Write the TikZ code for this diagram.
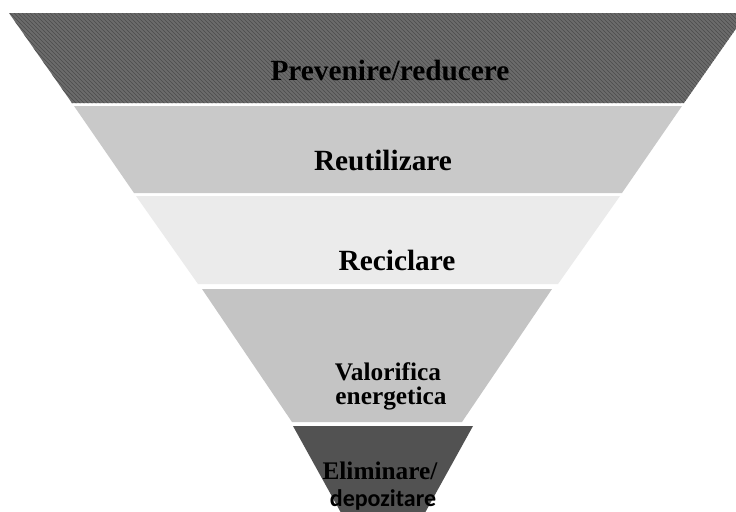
\documentclass[tikz,border=0pt]{standalone}
\usepackage{fontspec}
\setmainfont{Liberation Serif}
\newfontfamily\carlitofont{Carlito}
\usetikzlibrary{patterns}

\definecolor{bandone}{gray}{0.42}
\definecolor{bandtwo}{gray}{0.79}
\definecolor{bandthree}{gray}{0.92}
\definecolor{bandfour}{gray}{0.77}
\definecolor{bandfive}{gray}{0.32}

\tikzset{
	levellabel/.style={inner sep=0pt,anchor=base,font=\bfseries\fontsize{22}{24}\selectfont},
	smalllabel/.style={inner sep=0pt,anchor=base,text depth=0pt,font=\bfseries\fontsize{19}{20}\selectfont}
}

\begin{document}
\begin{tikzpicture}[x=0.75pt,y=-0.75pt]

\clip(0,0)rectangle(736,511);
\fill[white](0,0)rectangle(736,511);

\fill[bandone](9,13)--(747,13)--(684,103)--(72,103)--cycle;
\fill[pattern=north west lines,pattern color=black!70](9,13)--(747,13)--(684,103)--(72,103)--cycle;
\fill[bandtwo](74,106)--(682,106)--(622,193)--(134,193)--cycle;
\fill[bandthree](136,196)--(620,196)--(558,284)--(198,284)--cycle;
\fill[bandfour](202,289)--(552,289)--(462,422)--(292,422)--cycle;
\fill[bandfive](293,426)--(473,426)--(421,520)--(345,520)--cycle;

\node[levellabel] (prevenire) at (390,80) {Prevenire/reducere};
\node[levellabel] (reutilizare) at (383,170) {Reutilizare};
\node[levellabel] (reciclare) at (397,270) {Reciclare};
\node[smalllabel] (valorifica) at (388,380) {Valorifica};
\node[smalllabel] (energetica) at (391,404) {energetica};
\node[smalllabel] (eliminare) at (380,479) {Eliminare/};
\node[smalllabel,font=\carlitofont\bfseries\fontsize{18}{20}\selectfont] (depozitare) at (383,506) {depozitare};

\end{tikzpicture}
\end{document}
